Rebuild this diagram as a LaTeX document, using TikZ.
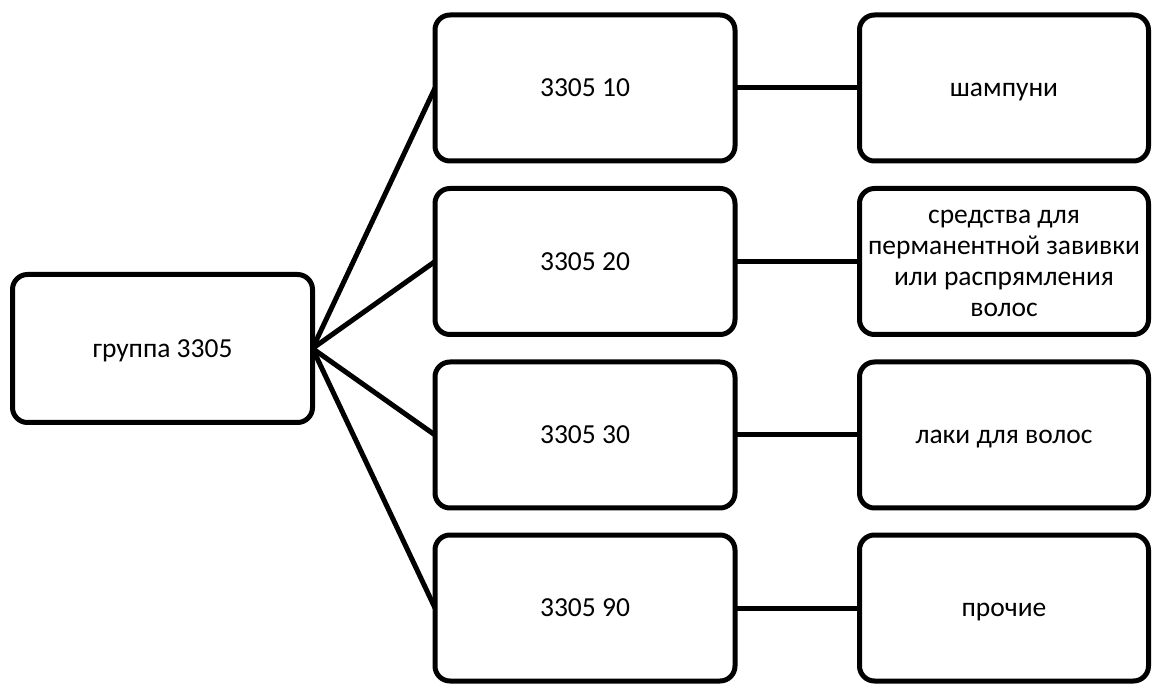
\documentclass[tikz,border=0pt]{standalone}
\usepackage{fontspec}
\setmainfont{Carlito}
\begin{document}
\begin{tikzpicture}[x=1pt,y=-1pt,
  box/.style={draw=black, line width=5pt, rounded corners=15pt, rectangle,
    inner sep=0pt, outer sep=0pt, align=center,
    text height=17.5pt, text depth=0pt,
    font=\fontsize{27.5}{31}\selectfont},
  leftbox/.style={box, minimum width=300pt, minimum height=148pt},
  midbox/.style={box, minimum width=300pt, minimum height=146pt},
  rightbox/.style={box, minimum width=289pt, minimum height=146pt},
  link/.style={draw=black, line width=5pt}]
\useasboundingbox (0,0) rectangle (1152,684);
\node[leftbox] (g) at (162.5,348.5) {группа 3305};
\node[midbox] (m1) at (585,88) {3305 10};
\node[midbox] (m2) at (585,261.5) {3305 20};
\node[midbox] (m3) at (585,435) {3305 30};
\node[midbox] (m4) at (585,608) {3305 90};
\node[rightbox] (r1) at (1004,88) {шампуни};
\node[rightbox, text height=110.5pt] (r2) at (1004,261.5) {средства для\\перманентной завивки\\или распрямления\\волос};
\node[rightbox] (r3) at (1004,435) {лаки для волос};
\node[rightbox] (r4) at (1004,608) {прочие};
\foreach \i in {1,2,3,4}{
  \draw[link] (g.east) -- (m\i.west);
  \draw[link] (m\i.east) -- (r\i.west);
}
\end{tikzpicture}
\end{document}
